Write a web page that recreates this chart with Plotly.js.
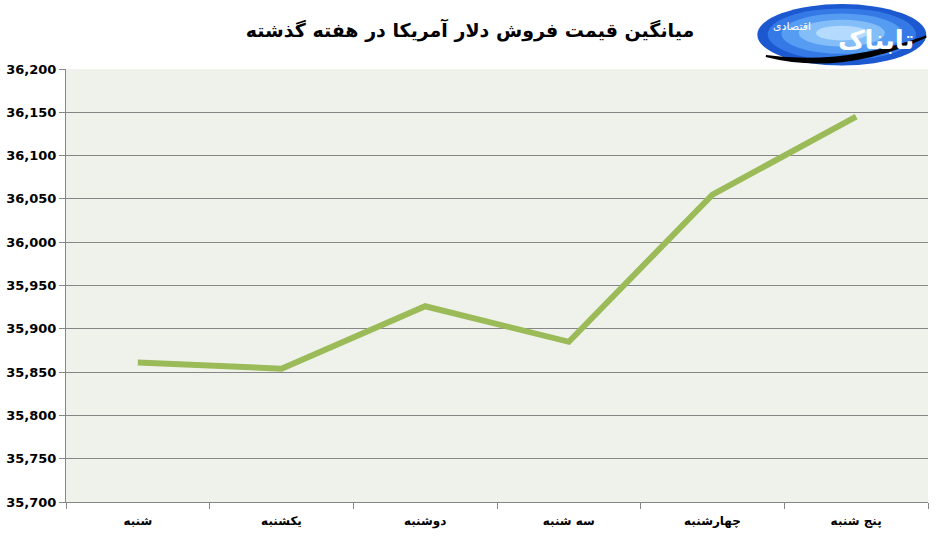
<!DOCTYPE html>
<html>
<head>
<meta charset="utf-8">
<script src="https://cdn.plot.ly/plotly-3.0.1.min.js"></script>
<style>
  html, body { margin: 0; padding: 0; background: #ffffff; }
  #chart { width: 940px; height: 539px; }
</style>
</head>
<body>
<div id="chart"></div>
<script>
// Average USD selling price over the past week
const days = ["شنبه", "یکشنبه", "دوشنبه", "سه شنبه", "چهارشنبه", "پنج شنبه"];
const prices = [35861, 35854, 35926, 35885, 36055, 36145];
const yTicks = [35700, 35750, 35800, 35850, 35900, 35950, 36000, 36050, 36100, 36150, 36200];

const titleText = "میانگین قیمت فروش دلار آمریکا در هفته گذشته";
const FA_FONT = "DejaVu Sans, Noto Sans, sans-serif";

// logo: stacked ellipses fake a radial gradient (paper coords, above the plot area)
const logoLayers = [
  { x0: 0.802, x1: 0.998, y0: 1.008, y1: 1.150, color: "#1c58cf" },
  { x0: 0.814, x1: 0.986, y0: 1.020, y1: 1.140, color: "#3479e6" },
  { x0: 0.830, x1: 0.970, y0: 1.035, y1: 1.128, color: "#569cf2" },
  { x0: 0.850, x1: 0.950, y0: 1.052, y1: 1.114, color: "#84bef9" },
  { x0: 0.870, x1: 0.930, y0: 1.066, y1: 1.100, color: "#b4dafd" },
];
const logoShapes = logoLayers.map(l => ({
  type: "circle", xref: "paper", yref: "paper", layer: "above",
  x0: l.x0, x1: l.x1, y0: l.y0, y1: l.y1,
  fillcolor: l.color, line: { width: 0 },
}));
logoShapes.push({
  type: "path", xref: "paper", yref: "paper", layer: "above",
  path: "M 0.812 1.030 Q 0.90 0.985 0.998 1.075 Q 0.90 1.005 0.812 1.030 Z",
  fillcolor: "#000000", line: { color: "#000000", width: 2 },
});

const trace = {
  type: "scatter", mode: "lines",
  x: days, y: prices,
  line: { color: "#9bbb59", width: 6 },
  hoverinfo: "x+y",
};

const layout = {
  width: 940, height: 539,
  paper_bgcolor: "#ffffff", plot_bgcolor: "#eff2ea",
  margin: { l: 66, r: 12, t: 69, b: 37 },
  showlegend: false,
  font: { family: FA_FONT, color: "#000000" },
  title: {
    text: "<b>" + titleText + "</b>",
    font: { family: FA_FONT, size: 19, color: "#000000" },
    x: 0.5, xref: "container", xanchor: "center",
    y: 0.944, yref: "container", yanchor: "middle",
  },
  xaxis: {
    type: "category",
    range: [-0.5, 5.5],
    tickson: "boundaries",
    ticks: "outside", ticklen: 6, tickcolor: "#868686",
    ticklabelstandoff: 8,
    showline: true, linecolor: "#868686", linewidth: 1,
    showgrid: false, zeroline: false,
    tickfont: { family: FA_FONT, size: 12, color: "#000000", weight: "bold" },
    fixedrange: true,
  },
  yaxis: {
    range: [35700, 36200],
    tickvals: yTicks,
    ticktext: yTicks.map(v => v.toLocaleString("en-US")),
    ticks: "outside", ticklen: 6, tickcolor: "#868686",
    showline: true, linecolor: "#868686", linewidth: 1,
    showgrid: true, gridcolor: "#868686", gridwidth: 1,
    zeroline: false,
    tickfont: { family: "DejaVu Sans, sans-serif", size: 13, color: "#000000", weight: "bold" },
    fixedrange: true,
  },
  shapes: logoShapes,
  annotations: [
    {
      xref: "paper", yref: "paper", x: 0.940, y: 1.068,
      xanchor: "center", yanchor: "middle",
      text: "<b>تابناک</b>", showarrow: false,
      font: { family: FA_FONT, size: 26, color: "#ffffff" },
    },
    {
      xref: "paper", yref: "paper", x: 0.842, y: 1.098,
      xanchor: "center", yanchor: "middle",
      text: "اقتصادی", showarrow: false,
      font: { family: FA_FONT, size: 11, color: "#ffffff" },
    },
  ],
};

Plotly.newPlot("chart", [trace], layout, { displayModeBar: false, staticPlot: true });
</script>
</body>
</html>
